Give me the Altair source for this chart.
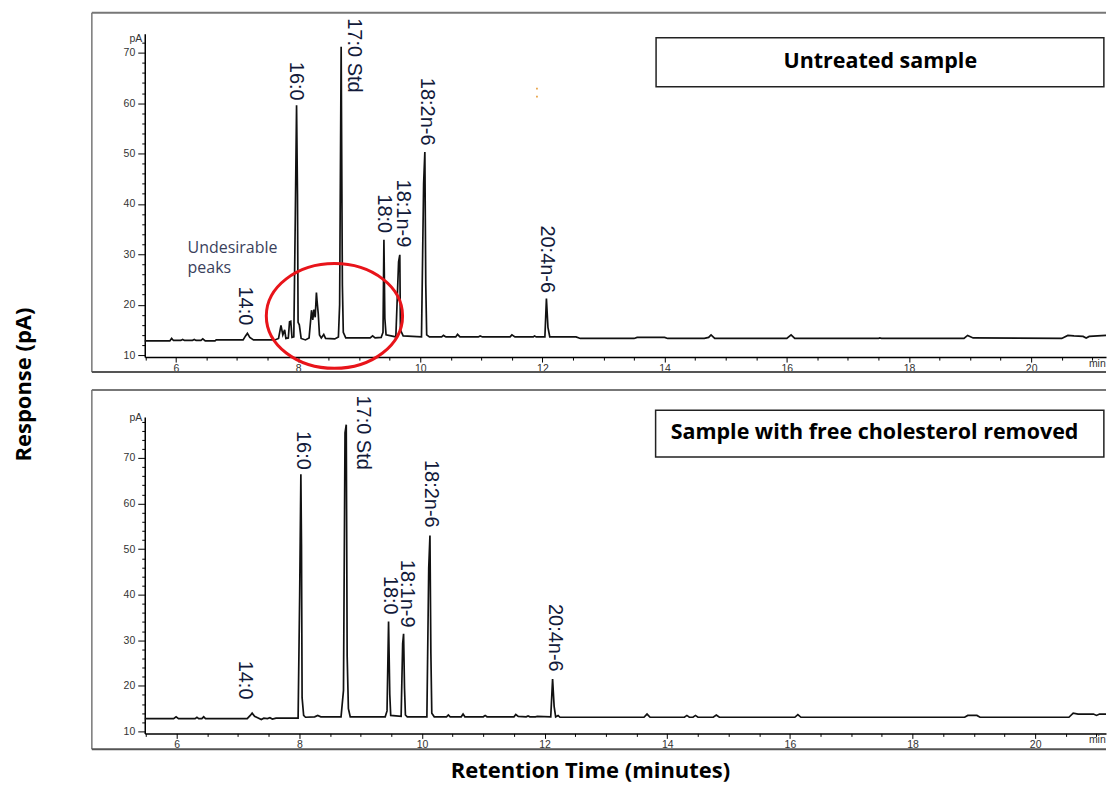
import altair as alt
import pandas as pd

# ---------------- data ----------------
# Untreated sample trace (time in min, response in pA)
top_time = [5.49, 5.90, 5.93, 5.96, 6.08, 6.11, 6.14, 6.27, 6.30, 6.33,
            6.41, 6.44, 6.48, 6.64, 6.66, 7.10, 7.14, 7.17, 7.21, 7.27,
            7.62, 7.68, 7.72, 7.75, 7.78, 7.80, 7.84, 7.86, 7.88, 7.90,
            7.93, 7.955, 7.975, 7.99, 8.00, 8.02, 8.05, 8.12, 8.18, 8.22,
            8.24, 8.26, 8.28, 8.30, 8.31, 8.33, 8.35, 8.38, 8.42, 8.45,
            8.60, 8.66, 8.68, 8.705, 8.725, 8.74, 8.78, 9.18, 9.22, 9.26,
            9.36, 9.39, 9.405, 9.42, 9.44, 9.60, 9.645, 9.665, 9.675, 9.72,
            10.02, 10.055, 10.075, 10.09, 10.105, 10.15, 10.35, 10.38, 10.42, 10.58,
            10.61, 10.65, 10.95, 10.98, 11.02, 11.47, 11.50, 11.55, 11.85, 11.87,
            11.90, 12.04, 12.065, 12.09, 12.12, 12.55, 12.62, 13.50, 13.55, 14.00,
            14.05, 14.65, 14.72, 14.76, 14.82, 16.00, 16.07, 16.13, 17.50, 17.52,
            17.55, 18.90, 18.96, 19.05, 20.50, 20.60, 20.70, 20.85, 20.90, 20.95,
            21.225]
top_pa = [12.8, 12.8, 13.3, 12.9, 12.9, 13.1, 12.9, 12.9, 13.1, 12.9,
          12.9, 13.2, 12.8, 12.8, 13.0, 13.0, 13.8, 14.3, 13.5, 13.0,
          13.0, 13.3, 15.9, 14.0, 15.0, 13.3, 13.4, 16.6, 16.7, 13.5,
          13.6, 38.0, 59.6, 42.0, 16.5, 16.0, 13.3, 13.0, 13.4, 18.9,
          17.0, 19.0, 17.5, 22.4, 20.8, 18.2, 14.0, 13.4, 14.1, 13.3,
          13.2, 13.6, 20.0, 71.2, 23.9, 14.5, 13.4, 13.4, 13.8, 13.4,
          13.5, 14.5, 32.9, 17.3, 14.0, 13.6, 28.5, 29.9, 15.0, 13.8,
          13.6, 44.0, 50.3, 24.0, 14.0, 13.6, 13.6, 13.9, 13.6, 13.6,
          14.1, 13.6, 13.6, 13.8, 13.6, 13.6, 14.0, 13.6, 13.6, 13.8,
          13.6, 13.6, 21.2, 15.5, 13.6, 13.6, 13.3, 13.3, 13.5, 13.5,
          13.3, 13.3, 13.5, 14.0, 13.3, 13.3, 14.0, 13.3, 13.3, 13.4,
          13.3, 13.3, 13.9, 13.4, 13.3, 13.9, 13.8, 13.7, 13.4, 13.7,
          13.9]

# Sample with free cholesterol removed
bottom_time = [5.48, 5.95, 5.99, 6.03, 6.30, 6.33, 6.36, 6.41, 6.44, 6.47,
               7.15, 7.20, 7.23, 7.27, 7.32, 7.38, 7.42, 7.48, 7.52, 7.56,
               7.62, 7.98, 8.005, 8.025, 8.035, 8.045, 8.07, 8.10, 8.25, 8.30,
               8.35, 8.68, 8.72, 8.745, 8.765, 8.78, 8.80, 8.83, 9.40, 9.43,
               9.455, 9.475, 9.49, 9.66, 9.685, 9.70, 9.715, 9.73, 9.76, 10.08,
               10.11, 10.13, 10.145, 10.16, 10.20, 10.40, 10.43, 10.46, 10.64, 10.67,
               10.70, 11.00, 11.03, 11.06, 11.50, 11.53, 11.57, 11.70, 11.73, 11.76,
               11.85, 11.88, 12.10, 12.13, 12.155, 12.18, 12.22, 12.25, 13.62, 13.67,
               13.72, 14.28, 14.32, 14.36, 14.42, 14.46, 14.50, 14.75, 14.80, 14.85,
               16.08, 16.13, 16.18, 18.85, 18.90, 19.05, 19.10, 20.55, 20.62, 20.70,
               20.95, 21.00, 21.05, 21.155]
bottom_pa = [12.8, 12.8, 13.2, 12.8, 12.8, 13.1, 12.8, 12.8, 13.2, 12.8,
             12.8, 13.5, 14.0, 13.3, 13.0, 12.6, 12.9, 12.8, 13.0, 12.7,
             12.9, 12.9, 39.5, 66.4, 51.0, 17.4, 13.5, 13.1, 13.2, 13.5,
             13.2, 13.2, 19.0, 75.5, 77.3, 26.5, 15.0, 13.2, 13.2, 14.5,
             34.1, 18.1, 13.5, 13.3, 29.3, 31.4, 19.5, 13.6, 13.2, 13.2,
             45.8, 53.0, 27.2, 14.0, 13.2, 13.2, 13.6, 13.2, 13.2, 13.8,
             13.2, 13.2, 13.5, 13.2, 13.2, 13.7, 13.3, 13.2, 13.4, 13.2,
             13.2, 13.3, 13.2, 21.5, 15.5, 13.2, 13.5, 13.1, 13.1, 13.8,
             13.1, 13.1, 13.5, 13.1, 13.1, 13.5, 13.1, 13.1, 13.6, 13.1,
             13.1, 13.7, 13.1, 13.1, 13.5, 13.5, 13.1, 13.1, 14.0, 13.8,
             13.8, 13.5, 13.8, 13.8]

peak_names = ["14:0", "16:0", "17:0 Std", "18:0", "18:1n-9", "18:2n-6", "20:4n-6"]
top_label_time = [7.13, 7.97, 8.92, 9.40, 9.72, 10.11, 12.08]
top_label_pa = [15.9, 60.5, 62.1, 34.2, 31.4, 51.6, 22.3]
bottom_label_time = [7.11, 8.06, 9.04, 9.48, 9.76, 10.14, 12.17]
bottom_label_pa = [17.0, 67.4, 67.4, 35.6, 32.8, 54.7, 23.1]

panel_titles = ["Untreated sample", "Sample with free cholesterol removed"]
box_time_start = [13.86, 13.81]
box_time_end = [21.19, 21.12]
box_pa_top = [72.97, 80.5]
box_pa_bottom = [63.27, 70.2]
box_text_time = [17.53, 17.38]
box_text_pa = [68.1, 75.4]

note_text = "Undesirable\npeaks"
note_time = [6.19]
note_pa = [32.9]
ring_time = [8.595]
ring_pa = [17.76]
speck_time = [11.91, 11.91]
speck_pa = [62.9, 61.3]

x_domains = [[5.49, 21.225], [5.479, 21.155]]
y_domains = [[9.6, 73.8], [9.56, 79.0]]
pa_marks = [72.9, 78.9]

PLOT_W = 963
heights = [324, 317]
frame_tops = [-21, -27]
frame_bottoms = [339, 333]

INK = "#111111"
LABEL_INK = "#121a3a"
FRAME = "#777777"
BOLD_FONT = "Open Sans"
one = pd.DataFrame({"k": [0]})

# ellipse outline drawn as a custom symbol (unit height, 1.3 aspect)
RING = ("M -1.3 0 C -1.3 -0.5523 -0.718 -1 0 -1 C 0.718 -1 1.3 -0.5523 1.3 0 "
        "C 1.3 0.5523 0.718 1 0 1 C -0.718 1 -1.3 0.5523 -1.3 0 Z")


def panel(i, time, pa, lab_t, lab_v, ytitle, xtitle, extras):
    xd, yd = x_domains[i], y_domains[i]
    h = heights[i]
    min_pos = round(xd[1] - 0.012, 3)
    xvals = [5.5 + 0.5 * k for k in range(32)] + [min_pos]
    yvals = list(range(10, int(yd[1]) + 1, 2)) + [pa_marks[i]]

    xaxis_kw = dict(
        values=xvals,
        labelExpr="datum.value > 21.1 ? 'min' : (datum.value % 2 === 0 ? format(datum.value, 'd') : '')",
        tickSize={"condition": [{"test": "datum.value > 21.1", "value": 0},
                                {"test": "datum.value % 2 === 0", "value": 5}], "value": 3},
        labelAlign={"condition": {"test": "datum.value > 21.1", "value": "right"}, "value": "center"},
        labelFlush=False, labelOverlap=False, labelPadding=1,
        labelFont="Liberation Sans", labelFontSize=10.5, labelColor="#333333",
        domainColor="#000000", domainWidth=1.5, tickColor="#000000", tickWidth=1,
        grid=False,
    )
    if xtitle:
        xaxis_kw.update(title=xtitle, titleX=446, titleY=37, titleAlign="center",
                        titleBaseline="middle", titleFont=BOLD_FONT, titleFontSize=22,
                        titleFontWeight="bold", titleColor="#000000", titleLimit=600)
    else:
        xaxis_kw.update(title=None)
    xaxis = alt.Axis(**xaxis_kw)

    yaxis_kw = dict(
        values=yvals,
        labelExpr=f"datum.value > {pa_marks[i] - 0.4} ? 'pA' : (datum.value % 10 === 0 ? format(datum.value, 'd') : '')",
        tickSize={"condition": [{"test": f"datum.value > {pa_marks[i] - 0.4}", "value": 0},
                                {"test": "datum.value % 10 === 0", "value": 7}], "value": 3},
        labelOverlap=False, labelPadding=3,
        labelFont="Liberation Sans", labelFontSize=10.5, labelColor="#333333",
        domainColor="#000000", domainWidth=1.5, tickColor="#000000", tickWidth=1,
        grid=False,
    )
    if ytitle:
        yaxis_kw.update(title=ytitle, titleX=-121, titleY=351, titleAngle=270,
                        titleAlign="center", titleBaseline="middle", titleFont=BOLD_FONT,
                        titleFontSize=22, titleFontWeight="bold", titleColor="#000000",
                        titleLimit=400)
    else:
        yaxis_kw.update(title=None)
    yaxis = alt.Axis(**yaxis_kw)

    xs = alt.Scale(domain=xd, nice=False, zero=False)
    ys = alt.Scale(domain=yd, nice=False, zero=False)

    def X(f):
        return alt.X(f, type="quantitative", scale=xs, axis=xaxis)

    def Y(f):
        return alt.Y(f, type="quantitative", scale=ys, axis=yaxis)

    trace = pd.DataFrame({"t": time, "v": pa, "i": list(range(len(time)))})
    labels = pd.DataFrame({"t": lab_t, "v": lab_v, "name": peak_names})
    box = pd.DataFrame({"t1": [box_time_start[i]], "t2": [box_time_end[i]],
                        "v1": [box_pa_top[i]], "v2": [box_pa_bottom[i]],
                        "tt": [box_text_time[i]], "tv": [box_text_pa[i]],
                        "name": [panel_titles[i]]})

    ft, fb = frame_tops[i], frame_bottoms[i]
    frame_top = alt.Chart(one).mark_rule(color=FRAME, strokeWidth=2).encode(
        x=alt.value(-53), x2=alt.value(PLOT_W), y=alt.value(ft))
    frame_left = alt.Chart(one).mark_rule(color=FRAME, strokeWidth=1.5).encode(
        x=alt.value(-53), y=alt.value(ft), y2=alt.value(fb))
    frame_bot = alt.Chart(one).mark_rule(color="#555555", strokeWidth=2).encode(
        x=alt.value(-53), x2=alt.value(PLOT_W), y=alt.value(fb))

    line = alt.Chart(trace).mark_line(color=INK, strokeWidth=1.7).encode(
        x=X("t"), y=Y("v"), order="i:Q")

    lab = alt.Chart(labels).mark_text(
        angle=90, align="right", baseline="middle", font="Liberation Sans",
        fontSize=20, color=LABEL_INK).encode(x=X("t"), y=Y("v"), text="name:N")

    rect = alt.Chart(box).mark_rect(fill="white", stroke="#222222", strokeWidth=1.5).encode(
        x=X("t1"), x2="t2", y=Y("v1"), y2="v2")
    rect_text = alt.Chart(box).mark_text(
        font=BOLD_FONT, fontSize=21.5, fontWeight="bold", color="#000000",
        align="center", baseline="middle").encode(x=X("tt"), y=Y("tv"), text="name:N")

    layers = [frame_top, frame_left, frame_bot, line, lab, rect, rect_text]

    if extras:
        note = pd.DataFrame({"t": note_time, "v": note_pa, "txt": [note_text]})
        ring = pd.DataFrame({"t": ring_time, "v": ring_pa})
        specks = pd.DataFrame({"t": speck_time, "v": speck_pa})
        layers.append(alt.Chart(note).mark_text(
            align="left", baseline="top", lineBreak="\n", lineHeight=20,
            font="Open Sans", fontSize=16, color="#3a3f5c").encode(
            x=X("t"), y=Y("v"), text="txt:N"))
        layers.append(alt.Chart(ring).mark_point(
            shape=RING, size=11025, filled=False, stroke="#e8141a", strokeWidth=3,
            opacity=1).encode(x=X("t"), y=Y("v")))
        layers.append(alt.Chart(specks).mark_square(
            size=3, color="#e8a040", opacity=1).encode(x=X("t"), y=Y("v")))

    return alt.layer(*layers).properties(width=PLOT_W, height=h)


top = panel(0, top_time, top_pa, top_label_time, top_label_pa,
            "Response (pA)", None, True)
bottom = panel(1, bottom_time, bottom_pa, bottom_label_time, bottom_label_pa,
               None, "Retention Time (minutes)", False)

chart = alt.vconcat(top, bottom, spacing=60, bounds="flush").properties(
    padding={"left": 5, "top": 3, "right": 0, "bottom": 4}
).configure_view(stroke=None)

chart.save("out.html", embed_options={"renderer": "svg", "actions": False})
